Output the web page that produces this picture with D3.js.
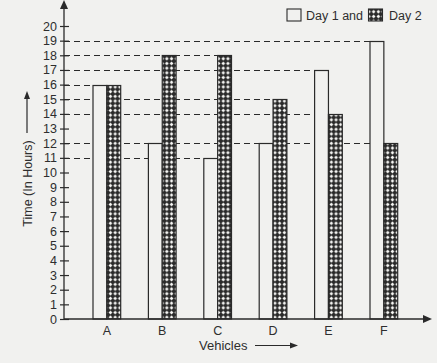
<!DOCTYPE html>
<html>
<head>
<meta charset="utf-8">
<script src="https://cdn.jsdelivr.net/npm/d3@7"></script>
<style>
  html, body { margin: 0; padding: 0; background: #f1f1ef; }
  svg { display: block; }
  text { font-family: "Liberation Sans", Arial, sans-serif; fill: #2e2e2e; }
</style>
</head>
<body>
<svg id="chart" width="437" height="363"></svg>
<script>
// ---- Data ----
const categories = ["A", "B", "C", "D", "E", "F"];
const seriesNames = ["Day 1", "Day 2"];
const day1 = [16, 12, 11, 12, 17, 19];
const day2 = [16, 18, 18, 15, 14, 12];
const yTickValues = [0,1,2,3,4,5,6,7,8,9,10,11,12,13,14,15,16,17,18,19,20];
const xTitle = "Vehicles";
const yTitle = "Time (In Hours)";
const legendText1 = "Day 1 and";
const legendText2 = "Day 2";

// ---- Layout ----
const W = 437, H = 363;
const axisX = 64, axisY = 319;
const ink = "#2a2a2a";
const bg = "#f1f1ef";

const svg = d3.select("#chart");
svg.append("rect").attr("width", W).attr("height", H).attr("fill", bg);

const defs = svg.append("defs");
const s = 4.7, r = 1.85;
const pat = defs.append("pattern")
  .attr("id", "hatch").attr("patternUnits", "userSpaceOnUse")
  .attr("width", s).attr("height", s);
pat.append("rect").attr("width", s).attr("height", s).attr("fill", "#2a2a2a");
pat.append("path")
  .attr("d", `M${s/2},${s/2 - r} L${s/2 + r},${s/2} L${s/2},${s/2 + r} L${s/2 - r},${s/2} Z`)
  .attr("fill", "#f8f8f6");

const y = d3.scaleLinear().domain([0, 20]).range([axisY, 26]);
const x = d3.scaleBand().domain(categories).range([axisX + 1.3, axisX + 1.3 + 6.5 * 55.4])
  .paddingInner(0.5).paddingOuter(0.5);
const xs = d3.scaleBand().domain(seriesNames).range([0, x.bandwidth()]);

const rows = [];
categories.forEach((c, i) => {
  rows.push({ cat: c, series: "Day 1", value: day1[i] });
  rows.push({ cat: c, series: "Day 2", value: day2[i] });
});

// one dashed guide per value, reaching the farthest bar of that height (behind bars)
const guides = Array.from(d3.rollup(rows, v => d3.max(v, d => x(d.cat) + xs(d.series)), d => d.value),
  ([value, xEnd]) => ({ value, xEnd }));
svg.append("g").selectAll("line").data(guides).enter().append("line")
  .attr("x1", axisX)
  .attr("x2", d => d.xEnd)
  .attr("y1", d => Math.round(y(d.value)) + 0.5).attr("y2", d => Math.round(y(d.value)) + 0.5)
  .attr("stroke", ink).attr("stroke-width", 1.2)
  .attr("stroke-dasharray", "6,4");

// bars
svg.append("g").selectAll("rect").data(rows).enter().append("rect")
  .attr("x", d => x(d.cat) + xs(d.series))
  .attr("y", d => Math.round(y(d.value)) + 0.5)
  .attr("width", xs.bandwidth())
  .attr("height", d => axisY - Math.round(y(d.value)) - 0.5)
  .attr("fill", d => d.series === "Day 1" ? bg : "url(#hatch)")
  .attr("stroke", ink).attr("stroke-width", 1.2);

// y axis
const yAxis = d3.axisLeft(y).tickValues(yTickValues).tickFormat(d3.format("d"))
  .tickSizeInner(4).tickSizeOuter(0).tickPadding(3);
const gy = svg.append("g").attr("transform", `translate(${axisX},0)`).call(yAxis);
gy.select(".domain").remove();
gy.selectAll(".tick line").attr("x1", -4).attr("x2", 5).attr("stroke", ink).attr("stroke-width", 1.2);
gy.selectAll(".tick text").attr("font-size", 12.5).attr("fill", ink)
  .style("font-family", '"Liberation Sans", Arial, sans-serif');

// x axis
const xAxis = d3.axisBottom(x).tickSize(0).tickPadding(4);
const gx = svg.append("g").attr("transform", `translate(0,${axisY})`).call(xAxis);
gx.select(".domain").remove();
gx.selectAll(".tick text").attr("font-size", 12.5).attr("fill", ink).attr("dy", "0.95em")
  .style("font-family", '"Liberation Sans", Arial, sans-serif');

// axis lines with arrowheads
svg.append("line").attr("x1", axisX).attr("x2", axisX).attr("y1", axisY).attr("y2", 4)
  .attr("stroke", ink).attr("stroke-width", 1.3);
svg.append("path").attr("d", `M${axisX},0 L${axisX + 4},9 L${axisX - 4},9 Z`).attr("fill", ink);
svg.append("line").attr("x1", axisX).attr("x2", 426).attr("y1", axisY).attr("y2", axisY)
  .attr("stroke", ink).attr("stroke-width", 1.3);
svg.append("path").attr("d", `M432,${axisY} L423,${axisY - 4} L423,${axisY + 4} Z`).attr("fill", ink);

// x title with arrow
svg.append("text").attr("x", 199).attr("y", 350).attr("font-size", 13).text(xTitle);
svg.append("line").attr("x1", 255).attr("x2", 292).attr("y1", 345.5).attr("y2", 345.5)
  .attr("stroke", ink).attr("stroke-width", 1.2);
svg.append("path").attr("d", "M298,345.5 L290,342.5 L290,348.5 Z").attr("fill", ink);

// y title with arrow
svg.append("text").attr("transform", "translate(31.5,183.5) rotate(-90)")
  .attr("text-anchor", "middle").attr("font-size", 12.5).text(yTitle);
svg.append("line").attr("x1", 27).attr("x2", 27).attr("y1", 133).attr("y2", 97)
  .attr("stroke", ink).attr("stroke-width", 1.2);
svg.append("path").attr("d", "M27,91 L24,99 L30,99 Z").attr("fill", ink);

// legend
const lg = svg.append("g");
lg.append("rect").attr("x", 287).attr("y", 9).attr("width", 14).attr("height", 12)
  .attr("fill", bg).attr("stroke", ink).attr("stroke-width", 1.1);
lg.append("text").attr("x", 306).attr("y", 19.5).attr("font-size", 12.5).text(legendText1);
lg.append("rect").attr("x", 368.5).attr("y", 9).attr("width", 14).attr("height", 12)
  .attr("fill", "url(#hatch)").attr("stroke", ink).attr("stroke-width", 1.1);
lg.append("text").attr("x", 389).attr("y", 19.5).attr("font-size", 12.5).text(legendText2);
</script>
</body>
</html>
